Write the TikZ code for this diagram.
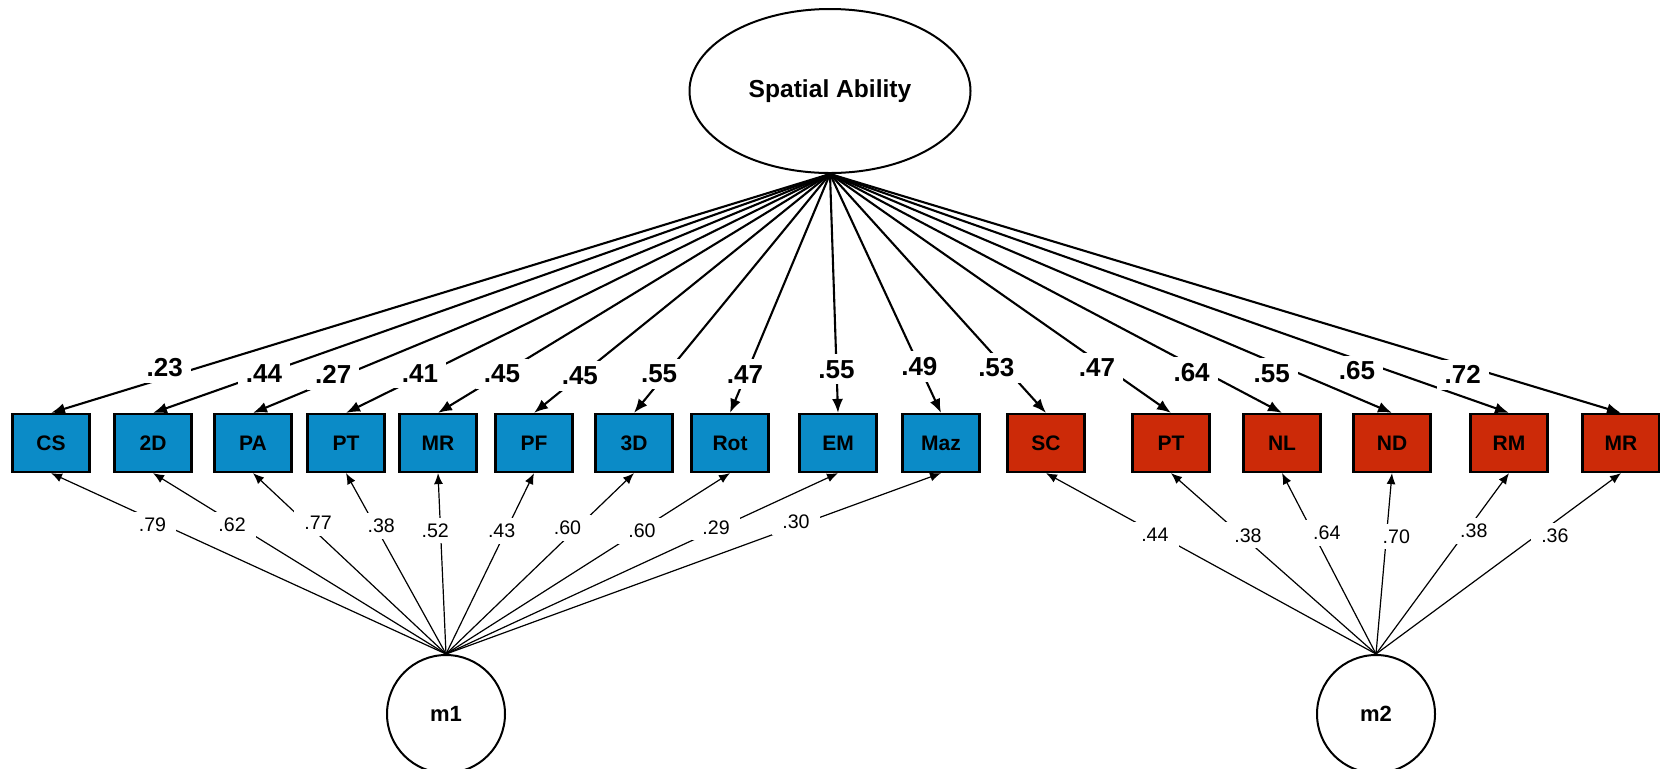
\documentclass[tikz,border=0pt]{standalone}
\usepackage{fontspec}
\setmainfont{Liberation Sans}
\usetikzlibrary{shapes.geometric,arrows.meta}
\definecolor{obsblue}{RGB}{11,139,199}
\definecolor{obsred}{RGB}{204,42,8}

\begin{document}
\begin{tikzpicture}[x=0.5pt, y=-0.5pt,
    factor/.style={draw, ellipse, line width=1pt, inner sep=0pt,
      font=\bfseries\fontsize{12.3}{14}\selectfont},
    method/.style={draw, circle, line width=1pt, minimum size=59pt, inner sep=0pt,
      font=\bfseries\fontsize{11}{13}\selectfont},
    indic/.style={draw, line width=1.1pt, minimum width=38.5pt, minimum height=29pt,
      inner sep=0pt, font=\bfseries\fontsize{10.5}{12}\selectfont},
    load/.style={-{Latex[length=7pt,width=5.5pt]}, line width=1.05pt},
    mload/.style={-{Latex[length=5.5pt,width=4.5pt]}, line width=0.6pt},
    loadlab/.style={fill=white, inner xsep=4pt, inner ysep=3pt,
      font=\bfseries\fontsize{13}{15}\selectfont},
    mlab/.style={fill=white, inner xsep=5pt, inner ysep=3pt,
      font=\fontsize{9.8}{11}\selectfont}]
  \useasboundingbox (0,0) rectangle (1660,768);

  \node[factor, minimum width=140.5pt, minimum height=82pt] (SA) at (830,91) {Spatial Ability};
  \node[method] (m1) at (446,714) {m1};
  \node[method] (m2) at (1376,714) {m2};

  % spatial tests
  \node[indic, fill=obsblue] (CS) at (51,443) {CS};
  \node[indic, fill=obsblue] (TwoD) at (153,443) {2D};
  \node[indic, fill=obsblue] (PA) at (253,443) {PA};
  \node[indic, fill=obsblue] (PTa) at (346,443) {PT};
  \node[indic, fill=obsblue] (MRa) at (438,443) {MR};
  \node[indic, fill=obsblue] (PF) at (534,443) {PF};
  \node[indic, fill=obsblue] (ThreeD) at (634,443) {3D};
  \node[indic, fill=obsblue] (Rot) at (730,443) {Rot};
  \node[indic, fill=obsblue] (EM) at (838,443) {EM};
  \node[indic, fill=obsblue] (Maz) at (941,443) {Maz};

  % second method
  \node[indic, fill=obsred] (SC) at (1046,443) {SC};
  \node[indic, fill=obsred] (PTb) at (1171,443) {PT};
  \node[indic, fill=obsred] (NL) at (1282,443) {NL};
  \node[indic, fill=obsred] (ND) at (1392,443) {ND};
  \node[indic, fill=obsred] (RM) at (1509,443) {RM};
  \node[indic, fill=obsred] (MRb) at (1621,443) {MR};

  \foreach \b in {CS,TwoD,PA,PTa,MRa,PF,ThreeD,Rot,EM,Maz,SC,PTb,NL,ND,RM,MRb}
    \draw[load] (SA.south) -- (\b.north);
  \foreach \b in {CS,TwoD,PA,PTa,MRa,PF,ThreeD,Rot,EM,Maz}
    \draw[mload] (m1.north) -- (\b.south);
  \foreach \b in {SC,PTb,NL,ND,RM,MRb}
    \draw[mload] (m2.north) -- (\b.south);

  % loadings on top of the lines
  \foreach \b/\v/\p/\dy in {CS/.23/.854/5, TwoD/.44/.836/0, PA/.27/.861/2.5,
      PTa/.41/.847/1.5, MRa/.45/.837/0, PF/.45/.845/0, ThreeD/.55/.872/4.2,
      Rot/.47/.85/1.5, EM/.55/.817/0, Maz/.49/.805/0, SC/.53/.77/-5,
      PTb/.47/.783/-3.2, NL/.64/.80/-3.7, ND/.55/.786/-5.8, RM/.65/.776/-5.8,
      MRb/.72/.80/-4.8}
    \path (SA.south) -- node[loadlab, pos=\p, yshift=\dy pt] (l\b) {\v} (\b.north);
  \foreach \b/\v/\p/\dx/\dy in {CS/.79/.73/-2.6/-1.6, TwoD/.62/.73/0/-1.6,
      PA/.77/.69/2.6/3.2, PTa/.38/.69/2.1/1.6, MRa/.52/.694/-2.6/-1,
      PF/.43/.68/-2.1/0, ThreeD/.60/.68/-3.2/1.6, Rot/.60/.697/-1/-1.6,
      EM/.29/.689/0/1, Maz/.30/.703/1/2.6}
    \path (m1.north) -- node[mlab, pos=\p, xshift=\dx pt, yshift=\dy pt] (k\b) {\v} (\b.south);
  \foreach \b/\v/\p/\dx/\dy in {SC/.44/.67/0/-1, PTb/.38/.65/2.6/0.5,
      NL/.64/.67/6.9/0, ND/.70/.667/4.8/-1.6, RM/.38/.68/3.7/0, MRb/.36/.70/3.7/-4.2}
    \path (m2.north) -- node[mlab, pos=\p, xshift=\dx pt, yshift=\dy pt] (k\b) {\v} (\b.south);
\end{tikzpicture}
\end{document}
